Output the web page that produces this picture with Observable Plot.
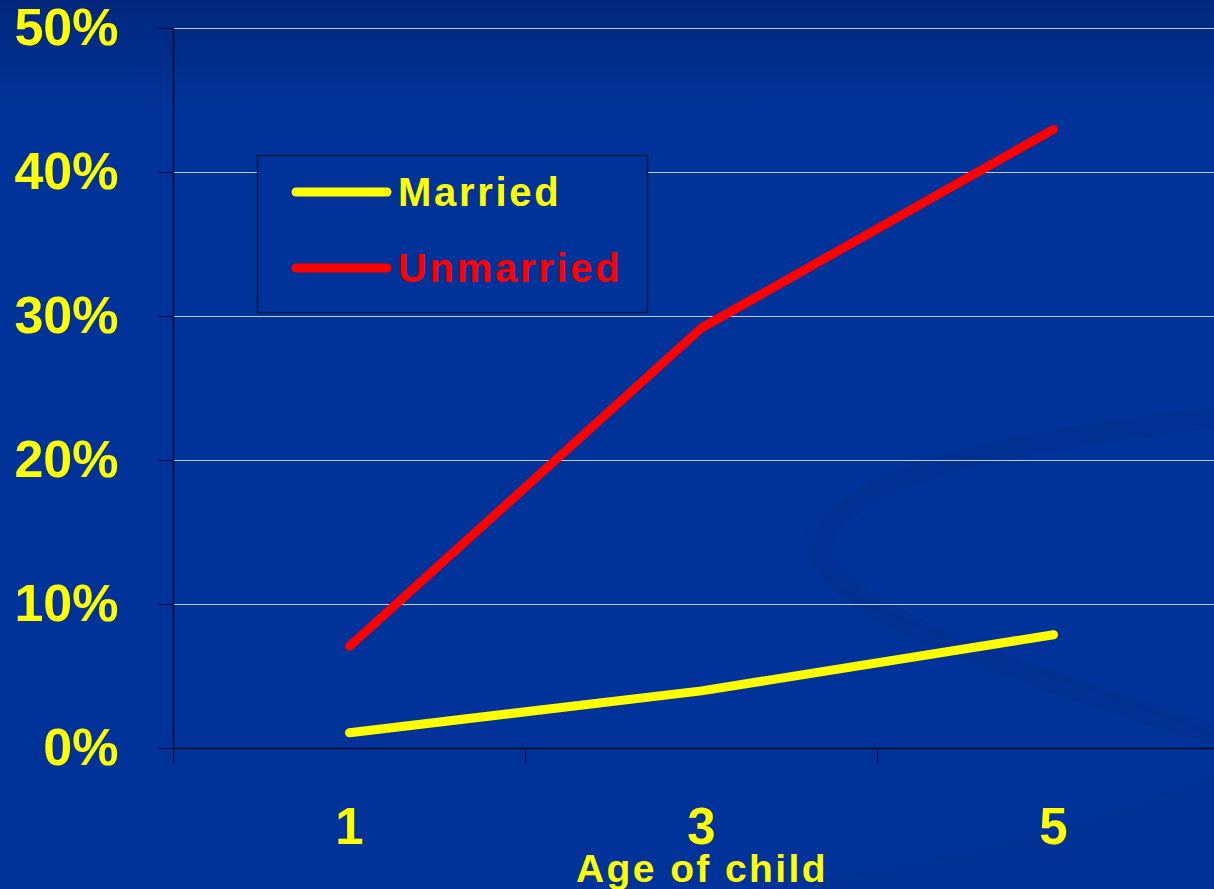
<!DOCTYPE html>
<html><head><meta charset="utf-8">
<script src="https://cdn.jsdelivr.net/npm/d3@7"></script>
<script src="https://cdn.jsdelivr.net/npm/@observablehq/plot@0.6"></script>
<style>
html,body{margin:0;padding:0;}
body{width:1214px;height:889px;overflow:hidden;background:linear-gradient(#00277c 0px,#003399 110px,#003399 100%);font-family:"Liberation Sans",Arial,sans-serif;}
#wrap{position:relative;width:1214px;height:889px;overflow:hidden;}
#deco,#chart,#legend{position:absolute;left:0;top:0;}
#chart svg{max-width:none;overflow:visible;background:transparent;}
</style>
</head><body>
<div id="wrap">
<svg id="deco" width="1214" height="889">
  <path d="M1214,418 C1020,440 850,470 822,540 C805,600 980,660 1214,735" fill="none" stroke="#00318f" stroke-width="22" stroke-linecap="round" opacity="0.7"/>
  <path d="M1214,735 C1000,650 830,610 812,560" fill="none" stroke="#002e8a" stroke-width="3" opacity="0.5"/>
  <path d="M760,889 C950,860 1120,820 1214,770 L1214,889 Z" fill="#003192" opacity="0.8"/>
</svg>
<div id="chart"></div>
<svg id="legend" width="1214" height="889"></svg>
</div>
<script>
// ---- data ----
const ages = [1, 3, 5];
const married = [1.1, 4.0, 7.9];
const unmarried = [7.1, 29.2, 43.0];
const seriesNames = ["Married", "Unmarried"];
const seriesColors = ["#ffff00", "#ff0000"];
const yTicks = [0, 10, 20, 30, 40, 50];
const xBoundaries = [0, 2, 4, 6];
const xTitle = "Age of child";

const rows = [];
ages.forEach((a, i) => {
  rows.push({age: a, value: married[i], series: seriesNames[0]});
  rows.push({age: a, value: unmarried[i], series: seriesNames[1]});
});

const font = "'Liberation Sans', Arial, sans-serif";

const chart = Plot.plot({
  width: 1229,
  height: 889,
  marginLeft: 173,
  marginRight: 0,
  marginTop: 28,
  marginBottom: 141,
  style: {background: "transparent", fontFamily: font, overflow: "visible"},
  x: {domain: [0, 6], axis: null},
  y: {domain: [0, 50], axis: null},
  color: {domain: seriesNames, range: seriesColors},
  marks: [
    Plot.gridY(yTicks.filter(d => d > 0), {stroke: "#c4cdee", strokeOpacity: 1, strokeWidth: 1.2}),
    Plot.axisY(yTicks, {tickSize: 15, tickFormat: () => "", color: "#000a2a", label: null}),
    Plot.axisY(yTicks, {tickSize: 0, tickPadding: 55, tickFormat: d => d + "%", color: "#ffff00", fontSize: 52, fontWeight: "bold", label: null}),
    Plot.axisX(xBoundaries, {tickSize: 15, tickFormat: () => "", color: "#000a2a", label: null}),
    Plot.axisX(ages, {tickSize: 0, tickPadding: 59, tickFormat: d => String(d), color: "#ffff00", fontSize: 51, fontWeight: "bold", label: null}),
    Plot.ruleY([0], {stroke: "#000a2a", strokeWidth: 1.5}),
    Plot.ruleX([0], {stroke: "#000a2a", strokeWidth: 1.5}),
    Plot.line(rows, {x: "age", y: "value", z: "series", stroke: "series", strokeWidth: 9, strokeLinecap: "round", strokeLinejoin: "round", curve: "linear"})
  ]
});
document.getElementById("chart").appendChild(chart);

// ---- legend ----
const lg = d3.select("#legend");
lg.append("rect").attr("x", 257.5).attr("y", 155.5).attr("width", 390).attr("height", 157)
  .attr("fill", "#003399").attr("stroke", "#0a1a45").attr("stroke-width", 1.5);
seriesNames.forEach((name, i) => {
  const y = 192 + i * 76;
  lg.append("line").attr("x1", 296).attr("x2", 387).attr("y1", y).attr("y2", y)
    .attr("stroke", seriesColors[i]).attr("stroke-width", 9).attr("stroke-linecap", "round");
  lg.append("text").attr("x", 398).attr("y", y + 14)
    .attr("fill", seriesColors[i]).attr("font-family", font).attr("font-weight", "bold")
    .attr("font-size", 40).attr("letter-spacing", "2.7px").text(name);
});
lg.append("text").attr("x", 702).attr("y", 882).attr("text-anchor", "middle")
  .attr("fill", "#ffff00").attr("font-family", font).attr("font-weight", "bold")
  .attr("font-size", 39).attr("letter-spacing", "2.4px").text(xTitle);
</script>
</body></html>
